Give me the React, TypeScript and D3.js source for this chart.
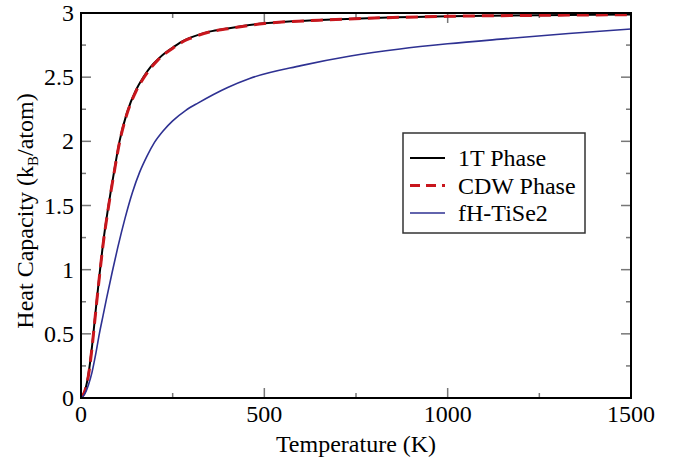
import React from "react";
import * as d3 from "d3";

// readings (temperature in K, heat capacity in kB/atom)
const temps1T = [0, 10, 20, 30, 40, 50, 60, 75, 90, 105, 125, 150, 170, 190, 210, 230, 255, 280, 300, 350, 400, 500, 650, 800, 1000, 1250, 1500];
const cap1T = [0, 0.05, 0.18, 0.4, 0.68, 0.95, 1.2, 1.5, 1.76, 2.0, 2.22, 2.4, 2.5, 2.58, 2.64, 2.69, 2.74, 2.785, 2.81, 2.855, 2.88, 2.92, 2.945, 2.962, 2.975, 2.983, 2.988];

const tempsCDW = [0, 10, 20, 30, 40, 50, 60, 75, 90, 105, 125, 150, 170, 190, 210, 230, 255, 280, 300, 350, 400, 500, 650, 800, 1000, 1250, 1500];
const capCDW = [0, 0.05, 0.17, 0.39, 0.67, 0.94, 1.19, 1.49, 1.75, 1.99, 2.21, 2.39, 2.49, 2.57, 2.635, 2.685, 2.735, 2.78, 2.805, 2.852, 2.877, 2.918, 2.944, 2.961, 2.974, 2.982, 2.987];

const tempsFH = [0, 10, 20, 30, 40, 50, 60, 70, 85, 100, 120, 140, 160, 180, 200, 225, 250, 285, 320, 400, 460, 600, 735, 870, 1000, 1160, 1330, 1500];
const capFH = [0, 0.03, 0.1, 0.2, 0.34, 0.5, 0.64, 0.78, 0.98, 1.17, 1.4, 1.6, 1.76, 1.885, 1.99, 2.085, 2.16, 2.24, 2.3, 2.42, 2.49, 2.59, 2.665, 2.72, 2.76, 2.8, 2.84, 2.875];

const seriesNames = ["1T Phase", "CDW Phase", "fH-TiSe2"];
const xTickLabels = ["0", "500", "1000", "1500"];
const yTickLabels = ["0", "0.5", "1", "1.5", "2", "2.5", "3"];

const W = 673;
const H = 461;
const left = 81, right = 631, top = 13, bottom = 398;
const font = "Times New Roman, Times, Liberation Serif, Tinos, serif";

const App = () => {
  const x = d3.scaleLinear().domain([0, 1500]).range([left, right]);
  const y = d3.scaleLinear().domain([0, 3]).range([bottom, top]);

  const line = d3
    .line<[number, number]>()
    .x((d) => x(d[0]))
    .y((d) => y(d[1]))
    .curve(d3.curveMonotoneX);

  const zip = (a: number[], b: number[]) => a.map((t, i) => [t, b[i]] as [number, number]);

  const series = [
    { name: seriesNames[0], d: line(zip(temps1T, cap1T)), color: "#000000", width: 2, dash: "" },
    { name: seriesNames[1], d: line(zip(tempsCDW, capCDW)), color: "#c8161d", width: 3, dash: "12,7" },
    { name: seriesNames[2], d: line(zip(tempsFH, capFH)), color: "#2e3192", width: 1.6, dash: "" },
  ];

  const xMajor = x.ticks(3); // 0,500,1000,1500
  const xMinor = d3.range(250, 1500, 500);
  const yMajor = d3.range(0, 3.01, 0.5);
  const yMinor = d3.range(0.25, 3, 0.5);
  const tickColor = "#777";

  return (
    <svg width={W} height={H} style={{ position: "absolute", left: 0, top: 0, background: "#fff", fontFamily: font }}>
      <defs>
        <clipPath id="plot">
          <rect x={left} y={top} width={right - left} height={bottom - top} />
        </clipPath>
      </defs>

      {/* ticks, inward on every side */}
      <g stroke={tickColor} strokeWidth={1.5}>
        {xMajor.map((t) => (
          <g key={"xm" + t}>
            <line x1={x(t)} x2={x(t)} y1={bottom} y2={bottom - 10} />
            <line x1={x(t)} x2={x(t)} y1={top} y2={top + 10} />
          </g>
        ))}
        {xMinor.map((t) => (
          <g key={"xn" + t}>
            <line x1={x(t)} x2={x(t)} y1={bottom} y2={bottom - 5} />
            <line x1={x(t)} x2={x(t)} y1={top} y2={top + 5} />
          </g>
        ))}
        {yMajor.map((v) => (
          <g key={"ym" + v}>
            <line x1={left} x2={left + 10} y1={y(v)} y2={y(v)} />
            <line x1={right} x2={right - 10} y1={y(v)} y2={y(v)} />
          </g>
        ))}
        {yMinor.map((v) => (
          <g key={"yn" + v}>
            <line x1={left} x2={left + 5} y1={y(v)} y2={y(v)} />
            <line x1={right} x2={right - 5} y1={y(v)} y2={y(v)} />
          </g>
        ))}
      </g>

      <g clipPath="url(#plot)" fill="none">
        {series.map((s) => (
          <path key={s.name} d={s.d || ""} stroke={s.color} strokeWidth={s.width} strokeDasharray={s.dash || undefined} />
        ))}
      </g>

      <rect x={left} y={top} width={right - left} height={bottom - top} fill="none" stroke="#000" strokeWidth={2} />

      {/* tick labels */}
      <g fontSize={24} fill="#000">
        {xMajor.map((t, i) => (
          <text key={"xl" + t} x={x(t)} y={422} textAnchor="middle">
            {xTickLabels[i]}
          </text>
        ))}
        {yMajor.map((v, i) => (
          <text key={"yl" + v} x={74} y={y(v) + 8} textAnchor="end">
            {yTickLabels[i]}
          </text>
        ))}
      </g>

      {/* axis titles */}
      <text x={(left + right) / 2} y={452} textAnchor="middle" fontSize={24}>
        Temperature (K)
      </text>
      <text transform="translate(33,211) rotate(-90)" textAnchor="middle" fontSize={24}>
        Heat Capacity (k<tspan fontSize={15} dy={5}>B</tspan>
        <tspan dy={-5}>/atom)</tspan>
      </text>

      {/* legend */}
      <rect x={403} y={133} width={182} height={100} fill="#fff" stroke="#333" strokeWidth={1.5} />
      {series.map((s, i) => (
        <g key={"lg" + s.name}>
          <line x1={410} x2={445} y1={158 + i * 27.5} y2={158 + i * 27.5} stroke={s.color} strokeWidth={s.width} strokeDasharray={s.dash ? "10,6" : undefined} />
          <text x={458} y={166 + i * 27.5} fontSize={24}>
            {s.name}
          </text>
        </g>
      ))}
    </svg>
  );
};

export default App;
